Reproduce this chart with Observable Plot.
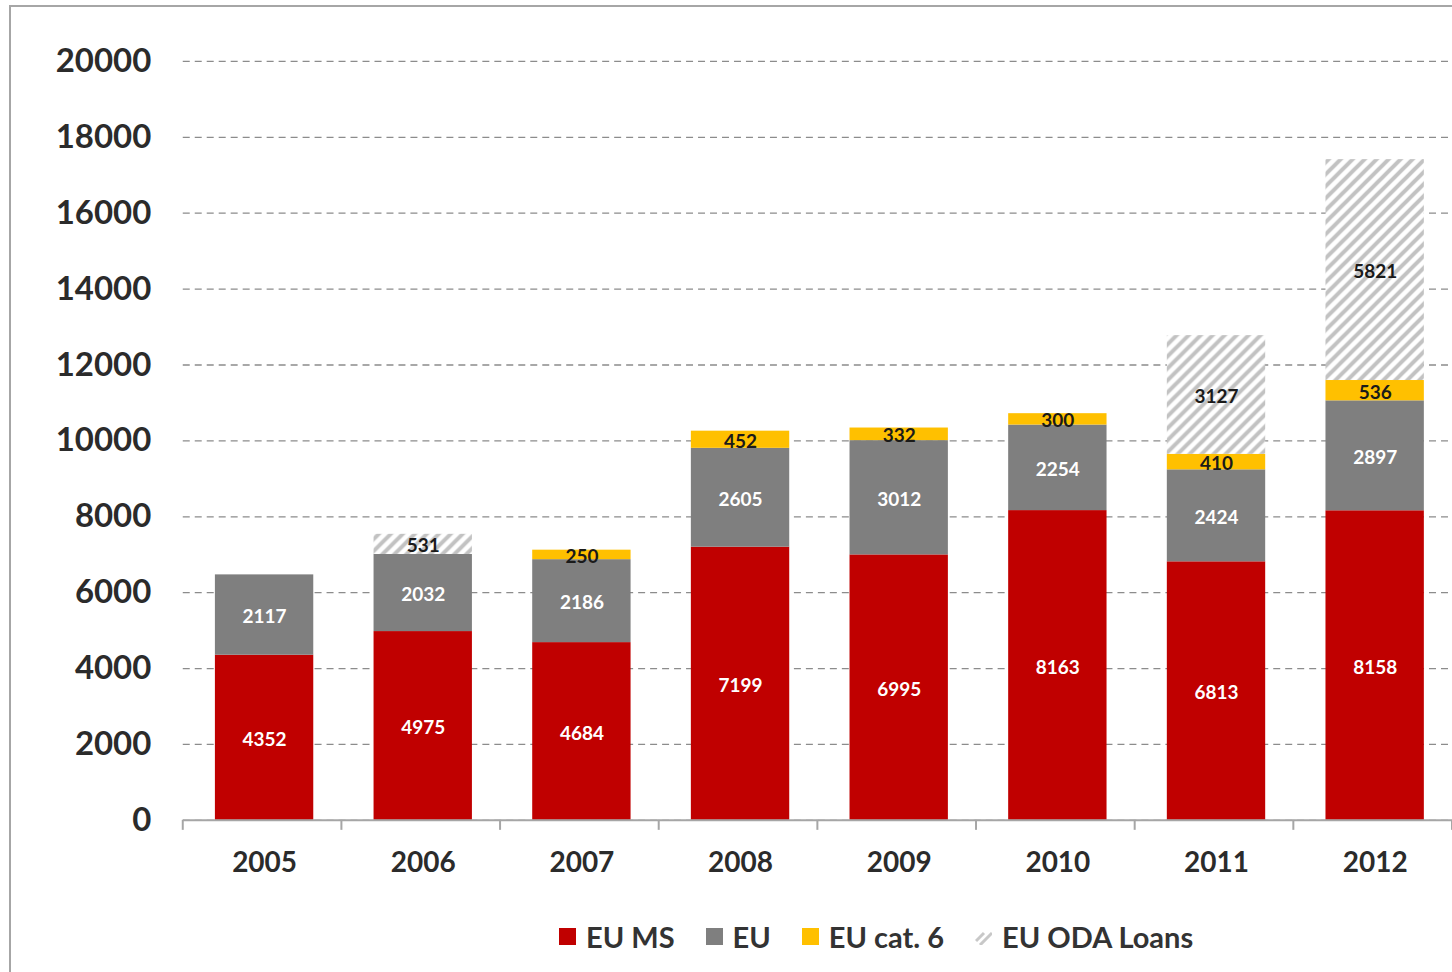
<!DOCTYPE html>
<html>
<head>
<meta charset="utf-8">
<script src="https://cdn.jsdelivr.net/npm/d3@7"></script>
<script src="https://cdn.jsdelivr.net/npm/@observablehq/plot@0.6"></script>
<style>
  html, body { margin: 0; padding: 0; background: #fff; overflow: hidden; width: 1452px; height: 972px; }
  #frame { position: absolute; left: 9px; top: 5px; width: 3000px; height: 3000px; border-top: 2px solid #a6a6a6; border-left: 2px solid #a6a6a6; }
  #chart { position: absolute; left: 0; top: 0; }
  #legend { position: absolute; top: 919px; left: 559px; display: flex; align-items: center; font-family: Lato, "Open Sans", sans-serif; font-weight: 700; font-size: 29px; color: #333; white-space: nowrap; }
  #legend .item { display: flex; align-items: center; margin-right: 31px; }
  #legend .sw { width: 17px; height: 17px; margin-right: 10px; }
</style>
</head>
<body>
<div id="frame"></div>
<div id="chart"></div>
<div id="legend"></div>
<script>
const years = ["2005", "2006", "2007", "2008", "2009", "2010", "2011", "2012"];
const seriesNames = ["EU MS", "EU", "EU cat. 6", "EU ODA Loans"];
const euMS  = [4352, 4975, 4684, 7199, 6995, 8163, 6813, 8158];
const eu    = [2117, 2032, 2186, 2605, 3012, 2254, 2424, 2897];
const cat6  = [0, 0, 250, 452, 332, 300, 410, 536];
const loans = [0, 531, 0, 0, 0, 0, 3127, 5821];
const yTicks = [0, 2000, 4000, 6000, 8000, 10000, 12000, 14000, 16000, 18000, 20000];
const colors = ["#c00000", "#7f7f7f", "#ffc000", "url(#hatch)"];
const lightLabelSeries = ["EU MS", "EU"];

const seriesValues = [euMS, eu, cat6, loans];
const data = [];
years.forEach((year, i) => {
  seriesNames.forEach((s, j) => {
    const v = seriesValues[j][i];
    if (v > 0) data.push({year, series: s, value: v});
  });
});

const W = 1454, H = 900, ML = 183, MR = 0, MT = 61, MB = 79;
const step = (W - ML - MR) / years.length;
const font = "Lato, 'Open Sans', sans-serif";
const shift = 2;

const chart = Plot.plot({
  width: W,
  height: H,
  marginLeft: ML,
  marginRight: MR,
  marginTop: MT,
  marginBottom: MB,
  style: {fontFamily: font, background: "transparent", overflow: "visible"},
  x: {domain: years, paddingInner: 0.38, paddingOuter: 0.19, round: false, label: null},
  y: {domain: [0, 20000], label: null},
  color: {domain: seriesNames, range: colors},
  marks: [
    Plot.gridY(yTicks, {stroke: "#8c8c8c", strokeOpacity: 1, strokeWidth: 1.3, strokeDasharray: "7,5"}),
    Plot.barY(data, {x: "year", y: "value", fill: "series", dx: shift}),
    Plot.ruleY([0], {stroke: "#a6a6a6", strokeWidth: 2}),
    Plot.text(data, Plot.stackY({x: "year", y: "value", z: "series",
      text: d => lightLabelSeries.includes(d.series) ? String(d.value) : null,
      fill: "white", fontSize: 19, fontWeight: "bold", fontFamily: font, dy: 2, dx: shift})),
    Plot.text(data, Plot.stackY({x: "year", y: "value", z: "series",
      text: d => lightLabelSeries.includes(d.series) ? null : String(d.value),
      fill: "#1a1a1a", fontSize: 19, fontWeight: "bold", fontFamily: font, dy: 2, dx: shift})),
    Plot.axisY(yTicks, {tickSize: 0, tickPadding: 32, tickFormat: d => String(d), fontSize: 33, fontWeight: "bold", fill: "#2b2b2b", label: null, fontFamily: font}),
    Plot.axisX({tickSize: 0, tickPadding: 32, fontSize: 28, fontWeight: "bold", fill: "#2b2b2b", label: null, fontFamily: font, dx: shift})
  ]
});

// hatch pattern for EU ODA Loans
const svg = d3.select(chart);
svg.insert("defs", ":first-child").html(
  '<pattern id="hatch" patternUnits="userSpaceOnUse" width="12" height="12">' +
  '<rect width="12" height="12" fill="white"/>' +
  '<path d="M-3,3 l6,-6 M0,12 l12,-12 M9,15 l6,-6" stroke="#c2c2c2" stroke-width="4"/>' +
  '</pattern>'
);

// category boundary tick marks below the baseline
const xs = chart.scale("x");
const yScale = chart.scale("y");
const y0 = yScale.apply(0);
const g = svg.append("g").attr("stroke", "#a6a6a6").attr("stroke-width", 2);
years.forEach((yr, i) => {
  const left = xs.apply(yr) + xs.bandwidth / 2 - step / 2;
  g.append("line").attr("x1", left).attr("x2", left).attr("y1", y0).attr("y2", y0 + 10);
});
const lastRight = xs.apply(years[years.length - 1]) + xs.bandwidth / 2 + step / 2;
g.append("line").attr("x1", lastRight).attr("x2", lastRight).attr("y1", y0).attr("y2", y0 + 10);

document.getElementById("chart").appendChild(chart);

// legend
const legend = document.getElementById("legend");
seriesNames.forEach((s, j) => {
  const item = document.createElement("div");
  item.className = "item";
  let sw;
  if (j === 3) {
    sw = document.createElementNS("http://www.w3.org/2000/svg", "svg");
    sw.setAttribute("width", 18); sw.setAttribute("height", 18);
    sw.setAttribute("class", "sw");
    sw.innerHTML = '<path d="M1,13 l8,-8 M5,17 l12,-12" stroke="#c8c8c8" stroke-width="3"/>';
  } else {
    sw = document.createElement("div");
    sw.className = "sw";
    sw.style.background = colors[j];
  }
  item.appendChild(sw);
  const t = document.createElement("span");
  t.textContent = s;
  item.appendChild(t);
  legend.appendChild(item);
});
</script>
</body>
</html>
